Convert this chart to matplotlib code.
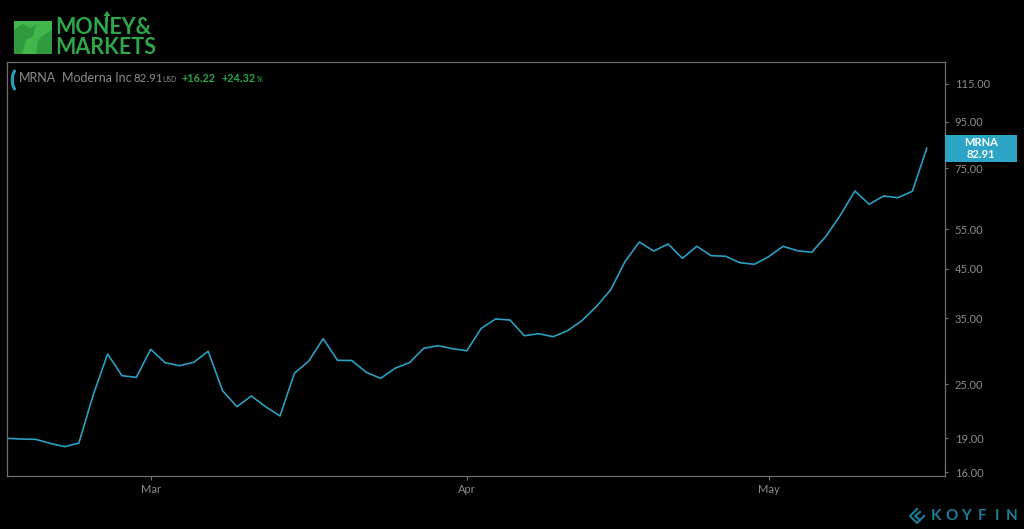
import matplotlib
matplotlib.use("Agg")
import matplotlib.pyplot as plt
from matplotlib.patches import Rectangle, Polygon
from matplotlib.lines import Line2D
from matplotlib.ticker import NullLocator
import numpy as np
import pandas as pd

plt.rcParams['font.family'] = ['Lato', 'DejaVu Sans']

# MRNA daily closes, Feb 14 - May 18 2020
dates = pd.bdate_range("2020-02-14", "2020-05-18").drop(pd.to_datetime(["2020-02-17", "2020-04-10"]))
closes = [
    18.99, 18.92, 18.89, 18.51, 18.20, 18.54, 23.67, 29.15, 26.11, 25.89,
    29.86, 27.89, 27.47, 27.95, 29.56, 24.19, 22.30, 23.55, 22.30, 21.27,
    26.43, 28.13, 31.51, 28.23, 28.20, 26.56, 25.76, 27.11, 27.89, 30.01,
    30.41, 29.95, 29.64, 33.22, 34.83, 34.65, 31.99, 32.32, 31.83, 32.81,
    34.53, 37.08, 40.37, 46.60, 51.51, 49.20, 50.99, 47.42, 50.39, 48.05,
    47.91, 46.37, 46.00, 47.81, 50.39, 49.28, 48.88, 53.10, 59.09, 66.76,
    62.40, 65.09, 64.52, 66.66, 82.91,
]
y_ticks = [16, 19, 25, 35, 45, 55, 75, 95, 115]
ticker = "MRNA"
name = "Moderna Inc"
last_price = 82.91
change = 16.22
change_pct = 24.32

W, H = 1024, 529
LINE = "#2a9fc1"
GRAY = "#8c8c8c"
GREEN = "#2aa64a"


def fx(x):
    return x / W


def fy(y):
    return 1 - y / H


fig = plt.figure(figsize=(W / 100, H / 100), dpi=100, facecolor="black")
ax = fig.add_axes([fx(7), fy(476), fx(945) - fx(7), fy(61.7) - fy(476)])
ax.set_facecolor("black")

x = np.arange(len(closes))
ax.plot(x, closes, color=LINE, lw=1.2)

ax.set_yscale("log")
ax.set_ylim(15.68, 128.8)
ax.set_xlim(0, 65.27)
ax.set_yticks(y_ticks)
ax.set_yticklabels([f"{v:.2f}" for v in y_ticks])
ax.yaxis.set_minor_locator(NullLocator())
ax.yaxis.tick_right()

# month ticks at the first trading day of each month
month_idx = [i for i in range(1, len(dates)) if dates[i].month != dates[i - 1].month]
ax.set_xticks(month_idx)
ax.set_xticklabels([dates[i].strftime("%b") for i in month_idx])

ax.tick_params(axis="y", colors="#777777", labelcolor=GRAY, labelsize=8, length=2, width=0.8, pad=5)
ax.tick_params(axis="x", colors="#777777", labelcolor=GRAY, labelsize=8, length=3, width=0.8, pad=3)
for s in ax.spines.values():
    s.set_color("#6e6e6e")
    s.set_linewidth(0.9)

# header inside the chart
bracket = Line2D([fx(14.5), fx(12.8), fx(12.3), fx(12.8), fx(14.5)],
                 [fy(71), fy(75), fy(80), fy(85), fy(89)],
                 transform=fig.transFigure, color=LINE, lw=2.2, solid_capstyle="round")
fig.add_artist(bracket)
yh = fy(78)
fig.text(fx(19), yh, ticker, color=GRAY, fontsize=9, va="center")
fig.text(fx(62), yh, name, color=GRAY, fontsize=9, va="center")
fig.text(fx(133), yh, f"{last_price:.2f}", color=GRAY, fontsize=8.3, va="center")
fig.text(fx(162.5), fy(79.5), "USD", color=GRAY, fontsize=5, va="center")
fig.text(fx(182), yh, f"+{change:.2f}", color=GREEN, fontsize=7.8, va="center", fontweight="bold")
fig.text(fx(222), yh, f"+{change_pct:.2f}", color=GREEN, fontsize=7.8, va="center", fontweight="bold")
fig.text(fx(256.5), fy(79.5), "%", color=GREEN, fontsize=5, va="center", fontweight="bold")

# last price label on the axis
fig.add_artist(Rectangle((fx(945), fy(162)), fx(1017) - fx(945), fy(135) - fy(162),
                         transform=fig.transFigure, facecolor="#2ba4c5", edgecolor="none"))
fig.text(fx(981), fy(143), ticker, color="white", fontsize=8, ha="center", va="center", fontweight="bold")
fig.text(fx(981), fy(155), f"{last_price:.2f}", color="white", fontsize=8, ha="center", va="center", fontweight="bold")

# Money & Markets logo
fig.add_artist(Rectangle((fx(14), fy(54)), fx(52) - fx(14), fy(21) - fy(54),
                         transform=fig.transFigure, facecolor="#41b649", edgecolor="none"))
fig.add_artist(Polygon([(fx(14), fy(30)), (fx(22), fy(24)), (fx(30), fy(28)), (fx(36), fy(25)),
                        (fx(33), fy(36)), (fx(26), fy(40)), (fx(22), fy(54)), (fx(14), fy(54))],
                       transform=fig.transFigure, facecolor="#2f9a3e", edgecolor="none"))
fig.add_artist(Polygon([(fx(52), fy(30)), (fx(45), fy(34)), (fx(38), fy(40)), (fx(36), fy(54)),
                        (fx(52), fy(54))],
                       transform=fig.transFigure, facecolor="#2f9a3e", edgecolor="none"))
fig.text(fx(55), fy(37.5), "MONEY&\nMARKETS", color="#2ea74a", fontsize=15.5, va="center",
         fontweight="bold", linespacing=0.95)
fig.add_artist(Line2D([fx(107), fx(107)], [fy(21), fy(13)], transform=fig.transFigure,
                      color="#2ea74a", lw=1.5))
fig.add_artist(Polygon([(fx(103.5), fy(16)), (fx(107), fy(11)), (fx(110.5), fy(16))],
                       transform=fig.transFigure, facecolor="#2ea74a", edgecolor="none"))

# Koyfin watermark
KOY = "#1d7e98"
fig.add_artist(Line2D([fx(917), fx(910), fx(917), fx(924)], [fy(509), fy(516), fy(523), fy(516)],
                      transform=fig.transFigure, color=KOY, lw=1.5))
fig.add_artist(Line2D([fx(920), fx(915), fx(920)], [fy(512), fy(516), fy(520)],
                      transform=fig.transFigure, color=KOY, lw=1.5))
for i, ch in enumerate("KOYFIN"):
    fig.text(fx(936 + i * 15.2), fy(516), ch, color=KOY, fontsize=11, ha="center", va="center",
             fontweight="bold")

fig.savefig("out.png", dpi=100, facecolor="black")
